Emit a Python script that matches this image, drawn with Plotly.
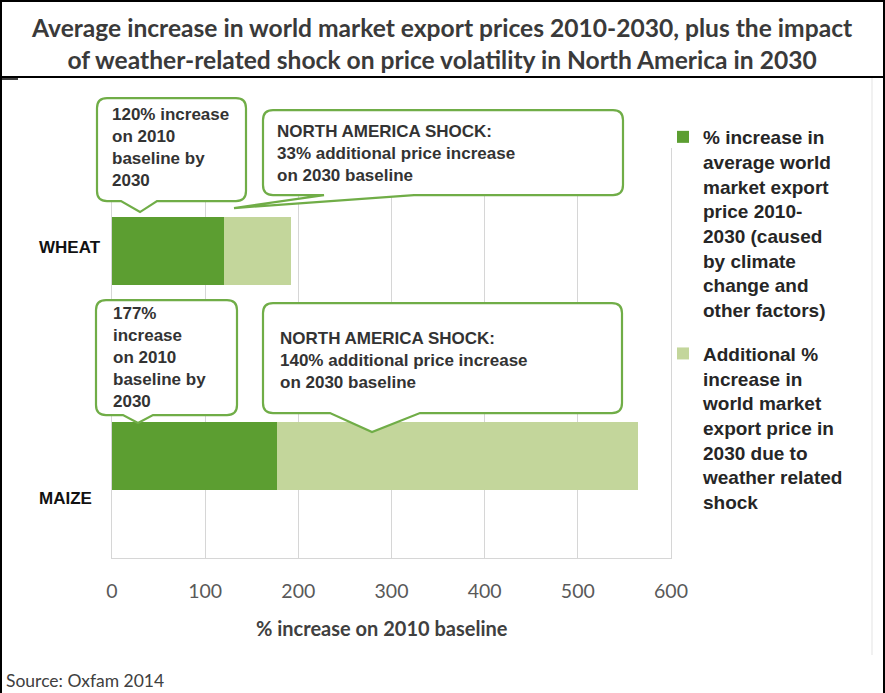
import plotly.graph_objects as go

# ---- data -------------------------------------------------------------
crops = ["MAIZE", "WHEAT"]                 # bottom-to-top order on the axis
base_increase = [177, 120]                 # % increase 2010-2030 on 2010 baseline
shock_pct = [140, 33]                      # extra % on the 2030 baseline (North America shock)
# extra increase expressed on the 2010 baseline
shock_increase = [(100 + b) * s / 100 for b, s in zip(base_increase, shock_pct)]

x_ticks = [0, 100, 200, 300, 400, 500, 600]

series_names = [
    "% increase in<br>average world<br>market export<br>price 2010-<br>2030 (caused<br>by climate<br>change and<br>other factors)",
    "Additional %<br>increase in<br>world market<br>export price in<br>2030 due to<br>weather related<br>shock",
]

title_text = ("Average increase in world market export prices 2010-2030, plus the impact<br>"
              "of weather-related shock on price volatility in North America in 2030")

# ---- styling -----------------------------------------------------------
W, H = 885, 693
ML, MR, MT, MB = 112, 214, 148, 135
PW, PH = W - ML - MR, H - MT - MB
Y_RANGE = [-0.501, 1.504]
DARK = "#5c9e31"
LIGHT = "#c3d69b"
GRID = "#d6d6d6"
CALLOUT = "#70ad47"
TXT = "#333333"
CHART_FONT = "Liberation Sans, Arial, sans-serif"
DOC_FONT = "Lato, Liberation Sans, sans-serif"


def px_x(px):
    return (px - ML) / PW


def px_y(py):
    return (MT + PH - py) / PH


def row_paper_y(name):
    # paper-y of a category row centre on the y axis
    idx = crops.index(name)
    return (idx - Y_RANGE[0]) / (Y_RANGE[1] - Y_RANGE[0])


fig = go.Figure()
fig.add_trace(go.Bar(
    y=crops, x=base_increase, orientation="h", name=series_names[0],
    marker=dict(color=DARK, line=dict(width=0)), width=0.333,
    legendgroup="a", hoverinfo="x+y",
))
fig.add_trace(go.Bar(
    y=crops, x=shock_increase, orientation="h", name=series_names[1],
    marker=dict(color=LIGHT, line=dict(width=0)), width=0.333,
    legendgroup="b", hoverinfo="x+y",
))


# ---- speech-bubble callouts (pixel offsets from the origin of a row) --------
def bubble(left, right, top, bottom, tip, base, r=10):
    bx0, bx1 = base
    tx, ty = tip
    return (f"M{left + r},{top} L{right - r},{top} Q{right},{top} {right},{top - r} "
            f"L{right},{bottom + r} Q{right},{bottom} {right - r},{bottom} "
            f"L{bx1},{bottom} L{tx},{ty} L{bx0},{bottom} "
            f"L{left + r},{bottom} Q{left},{bottom} {left},{bottom + r} "
            f"L{left},{top - r} Q{left},{top} {left + r},{top} Z")


callouts = [
    # row, box (left, right, top, bottom), tip, pointer base
    ("WHEAT", (-15, 134, 153, 50), (28, 39), (9, 45)),
    ("WHEAT", (151, 511, 141, 56), (122, 43), (212, 302)),
    ("MAIZE", (-16, 125, 155.5, 40.5), (26, 32.5), (11, 41)),
    ("MAIZE", (151, 510, 152.5, 42.5), (260, 23.5), (218, 308)),
]
for row, (l, r, t, b), tip, base in callouts:
    fig.add_shape(
        type="path", xref="paper", yref="paper", xsizemode="pixel", ysizemode="pixel",
        xanchor=0, yanchor=row_paper_y(row),
        path=bubble(l, r, t, b, tip, base),
        fillcolor="white", line=dict(color=CALLOUT, width=2.2), layer="above",
    )

callout_texts = [
    ("120% increase<br>on 2010<br>baseline by<br>2030", 110, 147.5),
    ("NORTH AMERICA SHOCK:<br>33% additional price increase<br>on 2030 baseline", 275, 153.5),
    ("177%<br>increase<br>on 2010<br>baseline by<br>2030", 111, 357.5),
    ("NORTH AMERICA SHOCK:<br>140% additional price increase<br>on 2030 baseline", 278, 360),
]
for text, lx, cy in callout_texts:
    fig.add_annotation(
        text=text, xref="paper", yref="paper", x=px_x(lx), y=px_y(cy),
        xanchor="left", yanchor="middle", align="left", showarrow=False,
        font=dict(family=CHART_FONT, size=17, color=TXT, weight="bold"),
    )

# row labels
for name, shift in (("WHEAT", 4), ("MAIZE", -42.5)):
    fig.add_annotation(
        text=name, xref="paper", yref="y", x=px_x(37), y=name, yshift=shift,
        xanchor="left", yanchor="middle", showarrow=False,
        font=dict(family=CHART_FONT, size=17, color="#111111", weight="bold"),
    )

# axis title
fig.add_annotation(
    text="% increase on 2010 baseline", xref="paper", yref="paper",
    x=px_x(382), y=px_y(628), xanchor="center", yanchor="middle", showarrow=False,
    font=dict(family=DOC_FONT, size=20, color="#404040", weight="bold"),
)

# document title and source
fig.add_annotation(
    text=title_text, xref="paper", yref="paper", x=px_x(442), y=px_y(43.5),
    xanchor="center", yanchor="middle", showarrow=False,
    font=dict(family=DOC_FONT, size=24.6, color="#3a3a3a", weight="bold"),
)
fig.add_annotation(
    text="Source: Oxfam 2014", xref="paper", yref="paper", x=px_x(4), y=px_y(680),
    xanchor="left", yanchor="middle", showarrow=False,
    font=dict(family=DOC_FONT, size=17.5, color="#404040"),
)

# table borders around the figure
border = dict(color="black", width=2)
for x0, y0, x1, y1, ln in [
    (1, 0, 1, H, border),
    (884, 0, 884, H, border),
    (0, 1, W, 1, border),
    (0, 77, W, 77, border),
    (0, 79, 18, 79, dict(color="black", width=1.5)),
    (872, 78, 872, 655, dict(color="#e3e3e3", width=1)),
]:
    fig.add_shape(type="line", xref="paper", yref="paper",
                  x0=px_x(x0), y0=px_y(y0), x1=px_x(x1), y1=px_y(y1), line=ln)

fig.update_layout(
    width=W, height=H, margin=dict(l=ML, r=MR, t=MT, b=MB),
    paper_bgcolor="white", plot_bgcolor="white",
    barmode="stack", bargap=0,
    showlegend=True,
    legend=dict(
        x=px_x(663), y=px_y(118), xanchor="left", yanchor="top",
        traceorder="grouped", tracegroupgap=16, valign="top", maxheight=600,
        bgcolor="rgba(0,0,0,0)",
        font=dict(family=CHART_FONT, size=19, color="#262626", weight="bold"),
    ),
    xaxis=dict(
        range=[0, 600], tickvals=x_ticks, showgrid=True, gridcolor=GRID, gridwidth=1.3,
        zeroline=False, showline=True, linecolor=GRID, linewidth=1.3,
        ticks="", ticklabelstandoff=15,
        tickfont=dict(family=DOC_FONT, size=19.5, color="#595959"),
        fixedrange=True,
    ),
    yaxis=dict(
        type="category", categoryorder="array", categoryarray=crops,
        range=Y_RANGE, showticklabels=False, showgrid=False,
        zeroline=False, showline=True, mirror=True, linecolor=GRID, linewidth=1.3,
        ticks="", fixedrange=True,
    ),
)

fig.write_html("out.html")
